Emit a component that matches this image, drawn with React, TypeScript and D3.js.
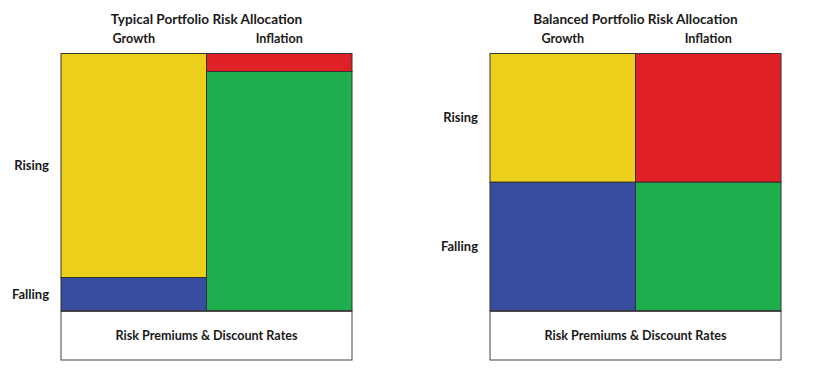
import { useMemo } from "react";
import * as d3 from "d3";

// factor columns and regimes
const factors = ["Growth", "Inflation"];
const regimes = ["Rising", "Falling"];

// share of risk (%) per column, rising then falling
const typicalGrowth = [87, 13];
const typicalInflation = [7, 93];
const balancedGrowth = [50, 50];
const balancedInflation = [50, 50];

const portfolioTitles = ["Typical Portfolio Risk Allocation", "Balanced Portfolio Risk Allocation"];
const baseLabel = "Risk Premiums & Discount Rates";

const colors: Record<string, string> = {
  "Growth-Rising": "#ECD01C",
  "Growth-Falling": "#364DA0",
  "Inflation-Rising": "#E02027",
  "Inflation-Falling": "#1EAE4E",
};

const FONT = "Lato, 'Open Sans', sans-serif";

interface PanelProps {
  title: string;
  growth: number[];
  inflation: number[];
  left: number;
}

const Panel = ({ title, growth, inflation, left }: PanelProps) => {
  const boxW = 291;
  const top = 53.5;
  const bottom = 311;
  const baseBottom = 360;

  const x = useMemo(
    () => d3.scaleBand().domain(factors).range([left, left + boxW]).padding(0),
    [left]
  );
  const y = d3.scaleLinear().domain([0, 100]).range([top, bottom]);

  const columns = [growth, inflation];
  const cells = columns.flatMap((vals, ci) => {
    let acc = 0;
    return vals.map((v, ri) => {
      const y0 = acc;
      acc += v;
      return { factor: factors[ci], regime: regimes[ri], y0, y1: acc };
    });
  });
  const growthCells = cells.filter((c) => c.factor === "Growth");

  return (
    <g>
      <text
        x={left + boxW / 2}
        y={24}
        textAnchor="middle"
        fontSize={13.6}
        fontWeight={700}
        fill="#1a1a1a"
      >
        {title}
      </text>
      {factors.map((f) => (
        <text
          key={f}
          x={(x(f) || 0) + x.bandwidth() / 2}
          y={42.5}
          textAnchor="middle"
          fontSize={12.6}
          fontWeight={700}
          fill="#1a1a1a"
        >
          {f}
        </text>
      ))}
      {cells.map((c) => (
        <rect
          key={c.factor + c.regime}
          x={x(c.factor) || 0}
          y={y(c.y0)}
          width={x.bandwidth()}
          height={y(c.y1) - y(c.y0)}
          fill={colors[`${c.factor}-${c.regime}`]}
          stroke="#333"
          strokeWidth={1}
        />
      ))}
      {growthCells.map((c) => (
        <text
          key={"lbl" + c.regime}
          x={left - 12}
          y={(y(c.y0) + y(c.y1)) / 2}
          dy="0.35em"
          textAnchor="end"
          fontSize={13}
          fontWeight={700}
          fill="#1a1a1a"
        >
          {c.regime}
        </text>
      ))}
      <rect
        x={left}
        y={bottom}
        width={boxW}
        height={baseBottom - bottom}
        fill="#fff"
        stroke="#444"
        strokeWidth={1}
      />
      <line x1={left} x2={left + boxW} y1={bottom} y2={bottom} stroke="#333" strokeWidth={1.5} />
      <text
        x={left + boxW / 2}
        y={(bottom + baseBottom) / 2}
        dy="0.35em"
        textAnchor="middle"
        fontSize={12.6}
        fontWeight={700}
        fill="#1a1a1a"
      >
        {baseLabel}
      </text>
    </g>
  );
};

export default function App() {
  return (
    <svg
      width={840}
      height={375}
      style={{ position: "absolute", left: 0, top: 0, background: "#fff" }}
      fontFamily={FONT}
    >
      <Panel title={portfolioTitles[0]} growth={typicalGrowth} inflation={typicalInflation} left={61} />
      <Panel title={portfolioTitles[1]} growth={balancedGrowth} inflation={balancedInflation} left={490} />
    </svg>
  );
}
